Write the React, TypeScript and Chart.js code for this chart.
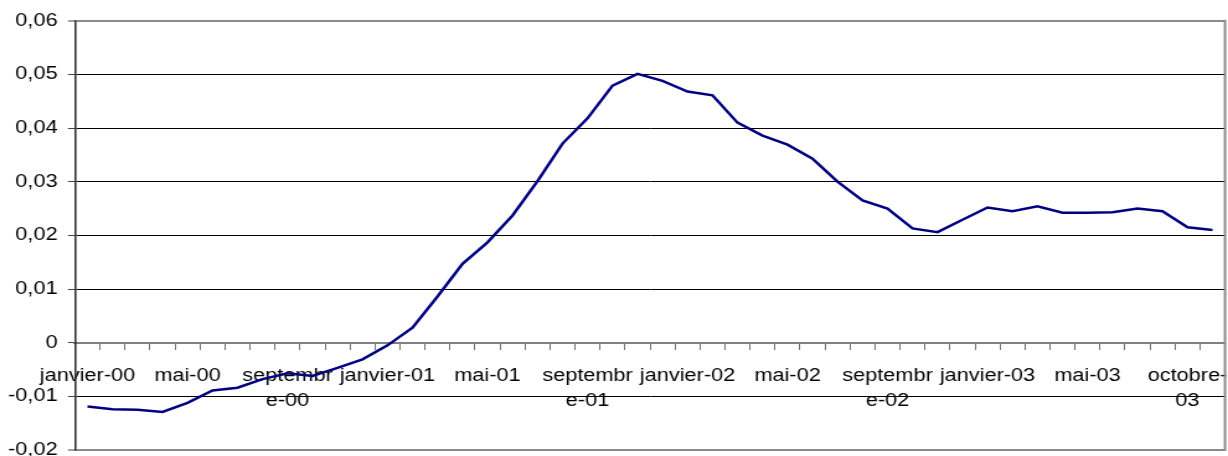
import { useEffect, useRef } from 'react';
import { Chart, registerables } from 'chart.js';

Chart.register(...registerables);

// Monthly categories (one month is absent between mai-03 and octobre-03 in the source axis)
const categories: string[] = [
  'janvier-00', 'février-00', 'mars-00', 'avril-00', 'mai-00', 'juin-00', 'juillet-00', 'août-00', 'septembre-00', 'octobre-00', 'novembre-00', 'décembre-00',
  'janvier-01', 'février-01', 'mars-01', 'avril-01', 'mai-01', 'juin-01', 'juillet-01', 'août-01', 'septembre-01', 'octobre-01', 'novembre-01', 'décembre-01',
  'janvier-02', 'février-02', 'mars-02', 'avril-02', 'mai-02', 'juin-02', 'juillet-02', 'août-02', 'septembre-02', 'octobre-02', 'novembre-02', 'décembre-02',
  'janvier-03', 'février-03', 'mars-03', 'avril-03', 'mai-03', 'juin-03', 'juillet-03', 'août-03', 'octobre-03', 'novembre-03',
];

const seriesValues: number[] = [
  -0.0119, -0.0124, -0.0125, -0.0129, -0.0112, -0.0089, -0.0084, -0.0068, -0.0057, -0.0062,
  -0.0047, -0.0031, -0.0005, 0.0028, 0.0086, 0.0147, 0.0187, 0.0237, 0.0301, 0.0371,
  0.0418, 0.0479, 0.0501, 0.0488, 0.0468, 0.0461, 0.041, 0.0386, 0.0369, 0.0343,
  0.03, 0.0265, 0.025, 0.0213, 0.0206, 0.0229, 0.0252, 0.0245, 0.0254, 0.0242,
  0.0242, 0.0243, 0.025, 0.0245, 0.0215, 0.021,
];

// Tick labels shown every 4th category (wrapped as in the source)
const xTickLabels: string[][] = [
  ['janvier-00'], ['mai-00'], ['septembr', 'e-00'],
  ['janvier-01'], ['mai-01'], ['septembr', 'e-01'],
  ['janvier-02'], ['mai-02'], ['septembr', 'e-02'],
  ['janvier-03'], ['mai-03'], ['octobre-', '03'],
];
const xLabelEvery = 4;

const yMin = -0.02;
const yMax = 0.06;
const yStep = 0.01;

const CSS_W = 1228;
const H = 456;
const W = 990; // internal drawing width, stretched horizontally to CSS_W
const SX = CSS_W / W;

const FONT_FAMILY = "'Liberation Sans', Arial, Helvetica, sans-serif";
const FONT_SIZE = 17.5;

const near = (a: number, b: number) => Math.abs(a - b) < 1e-9;

const fmtY = (v: number) => (near(v, 0) ? '0' : v.toFixed(2).replace('.', ','));

const rightBorder = {
  id: 'rightBorder',
  beforeDatasetsDraw(chart: any) {
    const { ctx, chartArea: a } = chart;
    ctx.save();
    ctx.strokeStyle = '#8a8a8a';
    ctx.lineWidth = 2;
    ctx.beginPath();
    ctx.moveTo(a.right, a.top - 1);
    ctx.lineTo(a.right, a.bottom + 1);
    ctx.stroke();
    ctx.restore();
  },
};

export default function App() {
  const ref = useRef<HTMLCanvasElement | null>(null);

  useEffect(() => {
    if (!ref.current) return;
    const chart = new Chart(ref.current, {
      type: 'line',
      data: {
        labels: categories,
        datasets: [
          {
            data: seriesValues,
            borderColor: '#000080',
            borderWidth: 2.5,
            pointRadius: 0,
            tension: 0,
            fill: false,
          },
        ],
      },
      plugins: [rightBorder],
      options: {
        animation: false,
        responsive: false,
        devicePixelRatio: 1,
        layout: { padding: { left: 0, right: W - 1225 / SX, top: 20.7, bottom: H - 450 } },
        plugins: { legend: { display: false }, tooltip: { enabled: false } },
        scales: {
          x: {
            type: 'category',
            position: { y: 0 } as any,
            offset: true,
            grid: {
              drawOnChartArea: false,
              drawTicks: true,
              tickLength: 6,
              tickColor: '#707070',
              tickWidth: 1,
              offset: true,
            },
            border: { display: true, color: '#808080', width: 2 },
            ticks: {
              autoSkip: false,
              maxRotation: 0,
              minRotation: 0,
              padding: 15.5,
              color: '#000',
              font: { family: FONT_FAMILY, size: FONT_SIZE, lineHeight: 1.4 },
              callback: (_v: any, i: number) => (i % xLabelEvery === 0 ? xTickLabels[i / xLabelEvery] : ''),
            },
            afterFit: (s: any) => {
              s.paddingLeft = 0;
              s.paddingRight = 0;
              s.paddingTop = 0;
              s.paddingBottom = 0;
            },
          },
          y: {
            position: 'left',
            min: yMin,
            max: yMax,
            ticks: {
              stepSize: yStep,
              padding: 8.5,
              color: '#000',
              font: { family: FONT_FAMILY, size: FONT_SIZE },
              callback: (v: any) => fmtY(Number(v)),
            },
            grid: {
              color: (c: any) => {
                const v = c.tick ? c.tick.value : 1;
                return near(v, yMax) || near(v, yMin) || near(v, 0) ? '#8a8a8a' : '#000';
              },
              lineWidth: (c: any) => {
                const v = c.tick ? c.tick.value : 1;
                return near(v, yMax) || near(v, yMin) ? 2 : 1;
              },
              tickLength: 5.6,
              tickColor: '#404040',
              tickWidth: 1,
            },
            border: { display: true, color: '#333', width: 1.6 },
            afterFit: (s: any) => {
              s.width = 75 / SX;
              s.paddingTop = 0;
              s.paddingBottom = 0;
            },
          },
        },
      },
    });
    return () => chart.destroy();
  }, []);

  return (
    <canvas
      ref={ref}
      width={W}
      height={H}
      style={{ position: 'absolute', left: 0, top: 0, width: `${CSS_W}px`, height: `${H}px` }}
    />
  );
}
